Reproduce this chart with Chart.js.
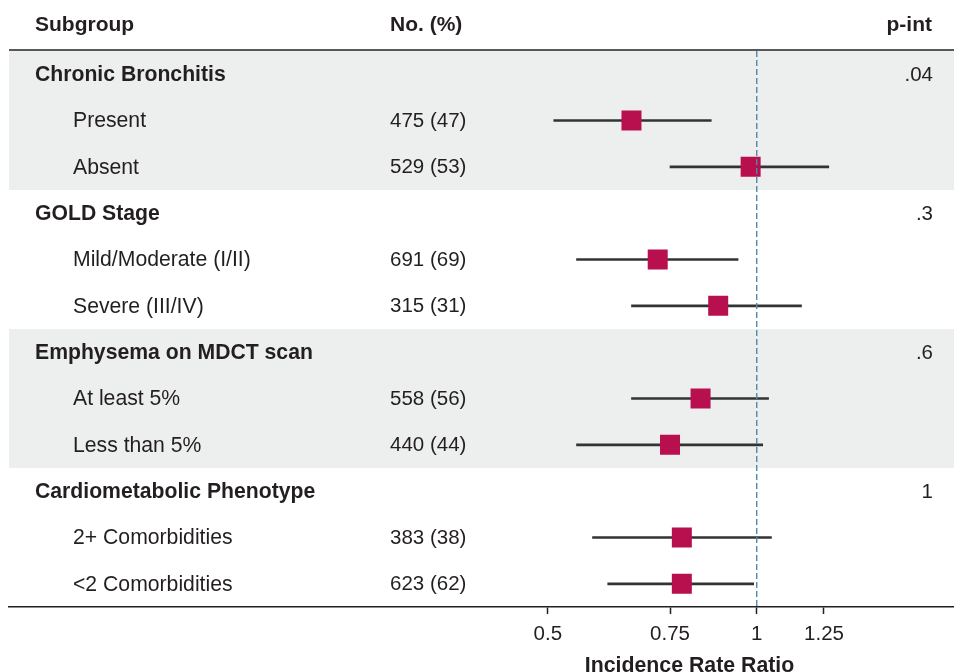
<!DOCTYPE html>
<html>
<head>
<meta charset="utf-8">
<script src="https://cdn.jsdelivr.net/npm/chart.js@4/dist/chart.umd.min.js"></script>
<style>
html,body{margin:0;padding:0;background:#ffffff;}
#wrap{width:954px;height:672px;position:relative;}
</style>
</head>
<body>
<div id="wrap"><canvas id="c" width="954" height="672"></canvas></div>
<script>
// ---- data ----
const rowLabels = [
  'Chronic Bronchitis', 'Present', 'Absent',
  'GOLD Stage', 'Mild/Moderate (I/II)', 'Severe (III/IV)',
  'Emphysema on MDCT scan', 'At least 5%', 'Less than 5%',
  'Cardiometabolic Phenotype', '2+ Comorbidities', '<2 Comorbidities'
];
const groupRows = [true, false, false, true, false, false, true, false, false, true, false, false];
const counts = ['', '475 (47)', '529 (53)', '', '691 (69)', '315 (31)', '', '558 (56)', '440 (44)', '', '383 (38)', '623 (62)'];
const pInt = ['.04', '', '', '.3', '', '', '.6', '', '', '1', '', ''];
const estimate = [null, 0.66, 0.98, null, 0.72, 0.88, null, 0.83, 0.75, null, 0.78, 0.78];
const lower    = [null, 0.51, 0.75, null, 0.55, 0.66, null, 0.66, 0.55, null, 0.58, 0.61];
const upper    = [null, 0.86, 1.27, null, 0.94, 1.16, null, 1.04, 1.02, null, 1.05, 0.99];
const xTicks = [0.5, 0.75, 1, 1.25];
const xTickLabels = ['0.5', '0.75', '1', '1.25'];
const headers = ['Subgroup', 'No. (%)', 'p-int'];
const axisTitle = 'Incidence Rate Ratio';
const refValue = 1;
const shadedGroups = [0, 2];

// ---- styles ----
const TEXT = '#231F20';
const FONT = '"Liberation Sans", Arial, Helvetica, sans-serif';
const BAND = '#EDEEEE';
const MARK = '#B80F4E';

const ciData = rowLabels.map((l, i) => (lower[i] == null ? null : [lower[i], upper[i]]));
const ptData = [];
rowLabels.forEach((l, i) => { if (estimate[i] != null) ptData.push({ x: estimate[i], y: l }); });

const tablePlugin = {
  id: 'table',
  beforeDatasetsDraw(chart) {
    const { ctx, chartArea, scales } = chart;
    const y = scales.y;
    const half = (y.getPixelForValue(1) - y.getPixelForValue(0)) / 2;
    const starts = [];
    groupRows.forEach((g, i) => { if (g) starts.push(i); });
    ctx.save();
    ctx.fillStyle = BAND;
    shadedGroups.forEach(gi => {
      const s = starts[gi];
      const e = (gi + 1 < starts.length ? starts[gi + 1] : rowLabels.length) - 1;
      const top = y.getPixelForValue(s) - half;
      const bot = y.getPixelForValue(e) + half;
      ctx.fillRect(chartArea.left, top, chart.width - chartArea.left, bot - top);
    });
    ctx.strokeStyle = TEXT;
    ctx.lineWidth = 1.5;
    ctx.beginPath();
    ctx.moveTo(chartArea.left, chartArea.top - 1);
    ctx.lineTo(chart.width, chartArea.top - 1);
    ctx.stroke();
    ctx.restore();
  },
  afterDatasetsDraw(chart) {
    const { ctx, chartArea, scales } = chart;
    const x = scales.x, y = scales.y;
    ctx.save();
    const rx = x.getPixelForValue(refValue);
    ctx.strokeStyle = '#5088AD';
    ctx.lineWidth = 1.4;
    ctx.setLineDash([6, 3]);
    ctx.beginPath();
    ctx.moveTo(rx, chartArea.top);
    ctx.lineTo(rx, chartArea.bottom);
    ctx.stroke();
    ctx.setLineDash([]);
    ctx.fillStyle = TEXT;
    ctx.textBaseline = 'middle';
    ctx.font = 'bold 21px ' + FONT;
    ctx.textAlign = 'left';
    ctx.fillText(headers[0], 35, 25.5);
    ctx.fillText(headers[1], 390, 25.5);
    ctx.textAlign = 'right';
    ctx.fillText(headers[2], 932, 25.5);
    rowLabels.forEach((lab, i) => {
      const py = y.getPixelForValue(i) + 1;
      ctx.textAlign = 'left';
      if (groupRows[i]) {
        ctx.font = 'bold 21.2px ' + FONT;
        ctx.fillText(lab, 35, py);
      } else {
        ctx.font = '21.2px ' + FONT;
        ctx.fillText(lab, 73, py);
      }
      ctx.font = '20.5px ' + FONT;
      if (counts[i]) ctx.fillText(counts[i], 390, py);
      if (pInt[i]) { ctx.textAlign = 'right'; ctx.fillText(pInt[i], 933, py); }
    });
    ctx.font = 'bold 21.3px ' + FONT;
    ctx.textAlign = 'center';
    ctx.textBaseline = 'alphabetic';
    ctx.fillText(axisTitle, 689.5, 671.5);
    ctx.restore();
  }
};

new Chart(document.getElementById('c'), {
  type: 'bar',
  data: {
    labels: rowLabels,
    datasets: [
      {
        type: 'line',
        label: 'Estimate',
        data: ptData,
        showLine: false,
        pointStyle: 'rect',
        pointRadius: 14.14,
        pointHoverRadius: 14.14,
        pointBorderWidth: 0,
        pointBackgroundColor: MARK,
        order: 0
      },
      {
        type: 'bar',
        label: '95% CI',
        data: ciData,
        backgroundColor: '#333333',
        barThickness: 2,
        order: 1
      }
    ]
  },
  options: {
    indexAxis: 'y',
    responsive: false,
    animation: false,
    devicePixelRatio: 1,
    layout: { autoPadding: false, padding: { top: 51, left: 9, right: 0, bottom: 0 } },
    plugins: { legend: { display: false }, tooltip: { enabled: false } },
    scales: {
      y: {
        type: 'category',
        labels: rowLabels,
        display: false,
        offset: true
      },
      x: {
        type: 'logarithmic',
        min: 0.0837,
        max: 1.924,
        bounds: 'data',
        afterBuildTicks: (s) => { s.ticks = xTicks.map(v => ({ value: v })); },
        afterFit: (s) => { s.height = 65; },
        ticks: {
          autoSkip: false,
          maxRotation: 0,
          padding: 8,
          color: TEXT,
          font: { family: FONT, size: 20.5 },
          callback: (v, i) => xTickLabels[i]
        },
        grid: {
          display: true,
          drawOnChartArea: false,
          drawTicks: true,
          tickLength: 7,
          tickColor: TEXT,
          tickWidth: 1.5
        },
        border: { display: true, color: TEXT, width: 1.5 }
      }
    }
  },
  plugins: [tablePlugin]
});
</script>
</body>
</html>
